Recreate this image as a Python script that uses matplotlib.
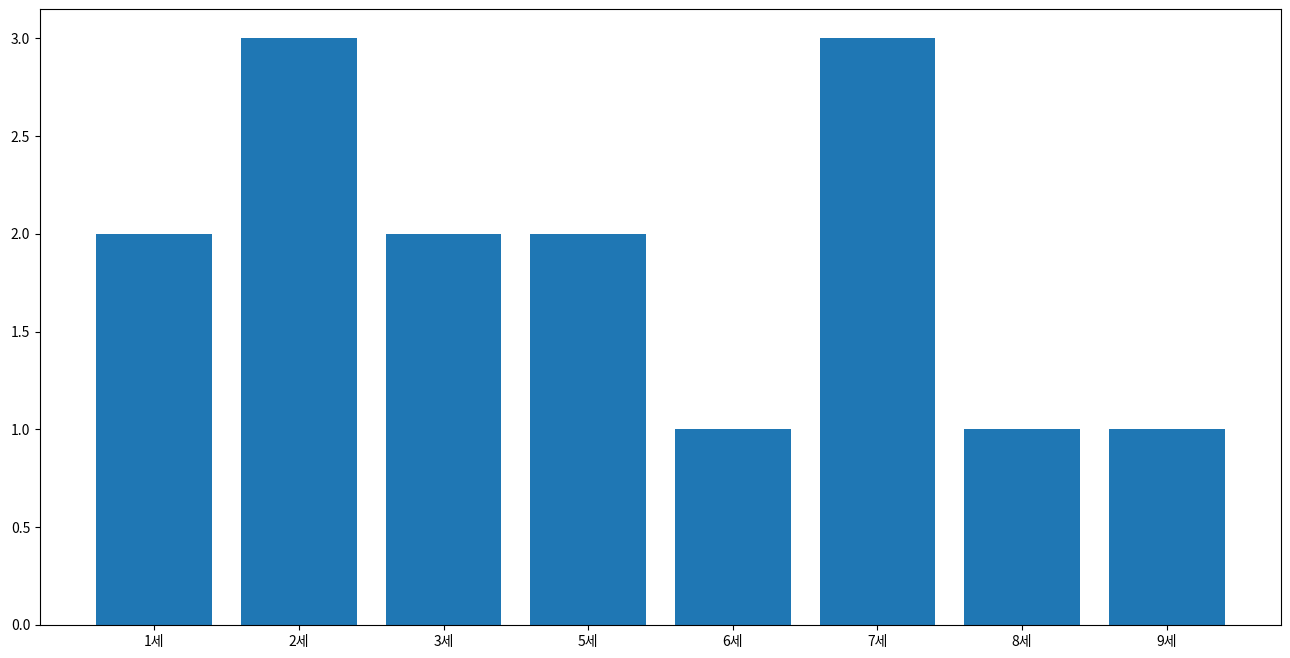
import matplotlib
matplotlib.use("Agg")
import matplotlib.pyplot as plt

plt.rcParams['font.family'] = ['Noto Sans CJK KR', 'DejaVu Sans']

ages = ['1세', '2세', '3세', '5세', '6세', '7세', '8세', '9세']
counts = [2, 3, 2, 2, 1, 3, 1, 1]

fig = plt.figure(figsize=(12.9, 6.58), dpi=100)
ax = fig.add_axes([40/1290, 1 - 625/658, (1281 - 40)/1290, (625 - 9)/658])
ax.bar(ages, counts, color='#1f77b4')
ax.tick_params(labelsize=10)
fig.savefig('out.png', dpi=100)
